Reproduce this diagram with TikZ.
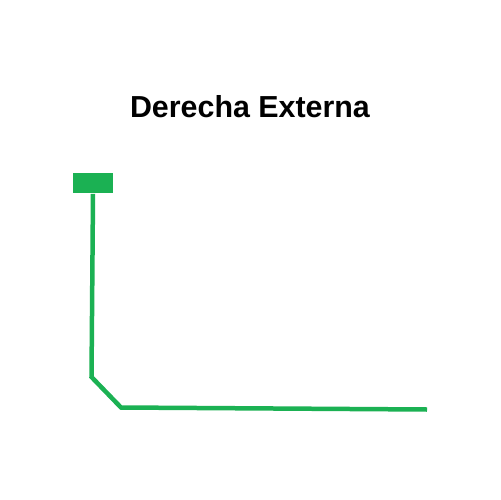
\documentclass[tikz,border=0pt]{standalone}
\usepackage{fontspec}
\setmainfont{Liberation Sans}
\usetikzlibrary{positioning}
\definecolor{railgreen}{HTML}{1BB153}
\tikzset{
  title/.style={font=\fontsize{17.3}{20}\selectfont\bfseries, inner sep=0pt},
  flag/.style={fill=railgreen, draw=none, minimum width=0.79cm, minimum height=0.42cm, inner sep=0pt},
  track/.style={draw=railgreen, line width=0.09cm, line join=miter}
}
\begin{document}
\begin{tikzpicture}[x=0.02cm, y=-0.02cm]
\useasboundingbox (0,0) rectangle (500,500);
\node[title] (ttl) at (250,107) {Derecha Externa};
\node[flag] (top) at (93,183) {};
\coordinate (bend) at (91.5,377);
\coordinate (foot) at (121,407.5);
\coordinate (end) at (427,409.5);
\draw[track] (top.south) -- (bend) -- (foot) -- (end);
\end{tikzpicture}
\end{document}
